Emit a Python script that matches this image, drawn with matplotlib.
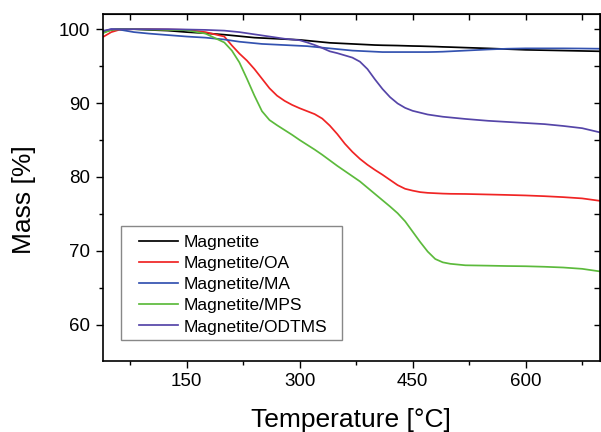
import matplotlib
matplotlib.use("Agg")
import matplotlib.pyplot as plt
from matplotlib.patches import Rectangle
from matplotlib.ticker import MultipleLocator

plt.rcParams['font.family'] = ['Liberation Sans', 'DejaVu Sans']

# Temperature grid (°C) shared by all TGA curves
temperature = [40, 50, 60, 80, 100, 125, 150, 175, 200, 210, 220, 230, 240, 250,
               260, 270, 280, 290, 300, 310, 320, 330, 340, 350, 360, 370, 380,
               390, 400, 410, 420, 430, 440, 450, 460, 470, 480, 490, 500, 520,
               550, 575, 600, 625, 650, 675, 700]

# Residual mass (%)
mass_magnetite = [99.6, 99.9, 100.0, 100.0, 99.9, 99.8, 99.6, 99.45, 99.25, 99.15,
                  99.05, 98.95, 98.85, 98.8, 98.75, 98.7, 98.65, 98.6, 98.55, 98.45,
                  98.35, 98.25, 98.15, 98.1, 98.05, 98.0, 97.95, 97.9, 97.85, 97.82,
                  97.8, 97.78, 97.75, 97.72, 97.7, 97.67, 97.64, 97.6, 97.57, 97.5,
                  97.4, 97.3, 97.2, 97.15, 97.1, 97.05, 97.0]

mass_oa = [99.0, 99.6, 99.9, 100.0, 100.0, 99.95, 99.9, 99.6, 99.0, 97.8,
           96.7, 95.75, 94.6, 93.3, 92.0, 91.0, 90.3, 89.75, 89.3, 88.9,
           88.5, 87.9, 86.95, 85.8, 84.5, 83.4, 82.45, 81.65, 80.95, 80.3,
           79.6, 78.9, 78.4, 78.15, 77.95, 77.85, 77.8, 77.75, 77.72, 77.7,
           77.63, 77.57, 77.5, 77.4, 77.27, 77.1, 76.75]

mass_ma = [99.7, 100.0, 99.95, 99.6, 99.4, 99.2, 99.0, 98.85, 98.6, 98.45,
           98.3, 98.2, 98.1, 98.0, 97.95, 97.9, 97.85, 97.8, 97.75, 97.7,
           97.6, 97.5, 97.4, 97.3, 97.2, 97.1, 97.05, 97.0, 96.95, 96.9,
           96.9, 96.9, 96.9, 96.9, 96.9, 96.9, 96.92, 96.95, 97.0, 97.1,
           97.25, 97.35, 97.4, 97.4, 97.4, 97.38, 97.35]

mass_mps = [99.5, 99.9, 100.0, 100.0, 99.95, 99.9, 99.85, 99.4, 98.2, 97.1,
            95.5, 93.3, 91.0, 88.9, 87.7, 87.0, 86.35, 85.7, 85.0, 84.35,
            83.7, 83.0, 82.25, 81.5, 80.8, 80.1, 79.4, 78.55, 77.7, 76.85,
            76.0, 75.1, 74.0, 72.6, 71.2, 69.9, 68.9, 68.45, 68.25, 68.05,
            68.0, 67.95, 67.92, 67.85, 67.75, 67.57, 67.2]

mass_odtms = [99.8, 100.0, 100.0, 100.0, 100.0, 100.0, 99.95, 99.9, 99.8, 99.7,
              99.6, 99.45, 99.3, 99.15, 99.0, 98.85, 98.7, 98.6, 98.5, 98.2,
              97.85, 97.45, 97.0, 96.75, 96.45, 96.15, 95.6, 94.6, 93.2, 91.9,
              90.8, 89.95, 89.35, 88.95, 88.7, 88.45, 88.3, 88.15, 88.05, 87.85,
              87.6, 87.45, 87.3, 87.15, 86.9, 86.6, 86.0]

series = [
    ("Magnetite", mass_magnetite, "#000000"),
    ("Magnetite/OA", mass_oa, "#f02424"),
    ("Magnetite/MA", mass_ma, "#3352b0"),
    ("Magnetite/MPS", mass_mps, "#5cba3c"),
    ("Magnetite/ODTMS", mass_odtms, "#5545a8"),
]

fig = plt.figure(figsize=(6.01, 4.32), dpi=100)
ax = fig.add_axes([103 / 601, 1 - 361 / 432, 496.5 / 601, 347 / 432])

for label, values, color in series:
    ax.plot(temperature, values, color=color, lw=1.25, label=label)

ax.set_xlim(39, 698)
ax.set_ylim(55.1, 102.05)
ax.xaxis.set_major_locator(MultipleLocator(150))
ax.xaxis.set_minor_locator(MultipleLocator(75))
ax.yaxis.set_major_locator(MultipleLocator(10))
ax.yaxis.set_minor_locator(MultipleLocator(5))

for sp in ax.spines.values():
    sp.set_linewidth(1.2)

ax.tick_params(which='both', direction='out', width=1.0, labelsize=13.5,
               colors='black', pad=4)
ax.tick_params(which='major', length=5)
ax.tick_params(which='minor', length=3)

# Inward ticks on the top and right frame edges
top = ax.secondary_xaxis('top')
top.xaxis.set_major_locator(MultipleLocator(150))
top.xaxis.set_minor_locator(MultipleLocator(75))
top.tick_params(which='both', direction='in', length=4, width=1.0, labeltop=False)
right = ax.secondary_yaxis('right')
right.yaxis.set_major_locator(MultipleLocator(10))
right.yaxis.set_minor_locator(MultipleLocator(5))
right.tick_params(which='both', direction='in', length=4, width=1.0, labelright=False)

ax.set_xlabel("Temperature [°C]", fontsize=19)
ax.set_ylabel("Mass [%]", fontsize=19)
ax.xaxis.set_label_coords(0.5, -0.135)
ax.yaxis.set_label_coords(-0.135, 0.464)

# Legend entries without their own frame; a plain grey box is drawn around them
leg = ax.legend(loc='upper left', bbox_to_anchor=(0.0725, 0.3646), borderaxespad=0,
                fontsize=12.5, handlelength=2.25, handletextpad=0.3,
                labelspacing=0.35, frameon=False, borderpad=0)
ax.add_patch(Rectangle((0.0363, 0.0605), 0.4451, 0.3285, transform=ax.transAxes,
                       facecolor='white', edgecolor='#888888', linewidth=1.0,
                       zorder=4.5))
leg.set_zorder(5)

fig.savefig("out.png", dpi=100)
